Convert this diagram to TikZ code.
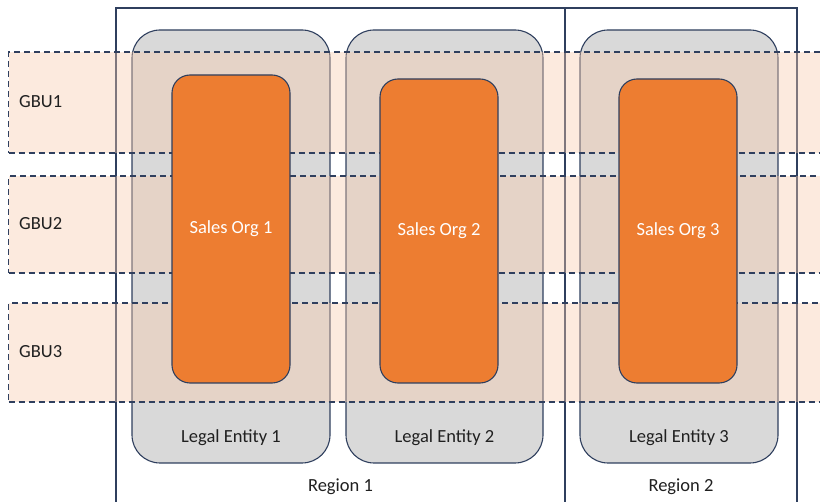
\documentclass[tikz,border=0pt]{standalone}
\usepackage{fontspec}
\setmainfont{Carlito}
\definecolor{lineblue}{HTML}{2F3F5E}
\definecolor{entitygray}{HTML}{D9D9D9}
\definecolor{bandpeach}{HTML}{F8CBAD}
\definecolor{orgorange}{HTML}{ED7D31}
\definecolor{textgray}{HTML}{202020}
\tikzset{
  region/.style={draw=lineblue, line width=1.1pt, inner sep=0pt},
  entity/.style={draw=lineblue, fill=entitygray, line width=1.1pt, rounded corners=28pt, inner sep=0pt, minimum width=198pt, minimum height=433pt},
  band/.style={draw=lineblue, fill=bandpeach, fill opacity=0.4, line width=1.1pt, dash pattern=on 6pt off 4pt, inner sep=0pt, minimum width=830pt, anchor=west},
  salesorg/.style={draw=lineblue, fill=orgorange, line width=1.1pt, rounded corners=18pt, inner sep=0pt, minimum width=118pt, text=white},
  label/.style={text=textgray, inner sep=0pt}
}
\begin{document}
\begin{tikzpicture}[x=1pt, y=-1pt, font=\fontsize{18.5}{22}\selectfont]
  \useasboundingbox[fill=white] (0,0) rectangle (820,502);

  % regions
  \node[region, minimum width=449pt, minimum height=496pt] (region1) at (340.5,256) {};
  \node[region, minimum width=232pt, minimum height=496pt] (region2) at (681,256) {};

  % legal entities
  \node[entity] (le1) at (231,246.5) {};
  \node[entity, minimum width=197pt] (le2) at (444.5,246.5) {};
  \node[entity] (le3) at (679,246.5) {};

  % GBU bands
  \node[band, minimum height=101pt] (gbu1) at (8,102.5) {};
  \node[band, minimum height=97pt] (gbu2) at (8,224.5) {};
  \node[band, minimum height=99pt] (gbu3) at (8,352.5) {};

  % sales orgs
  \node[salesorg, minimum height=308pt] (so1) at (231,229) {Sales Org 1};
  \node[salesorg, minimum height=304pt] (so2) at (439,231) {Sales Org 2};
  \node[salesorg, minimum height=304pt] (so3) at (678,231) {Sales Org 3};

  % labels
  \node[label, anchor=west] (gbu1label) at (19,102) {GBU1};
  \node[label, anchor=west] (gbu2label) at (19,224) {GBU2};
  \node[label, anchor=west] (gbu3label) at (19,352) {GBU3};
  \node[label] (le1label) at (231,438) {Legal Entity 1};
  \node[label] (le2label) at (444.5,438) {Legal Entity 2};
  \node[label] (le3label) at (679,438) {Legal Entity 3};
  \node[label] (region1label) at (340.5,487) {Region 1};
  \node[label] (region2label) at (681,487) {Region 2};
\end{tikzpicture}
\end{document}
